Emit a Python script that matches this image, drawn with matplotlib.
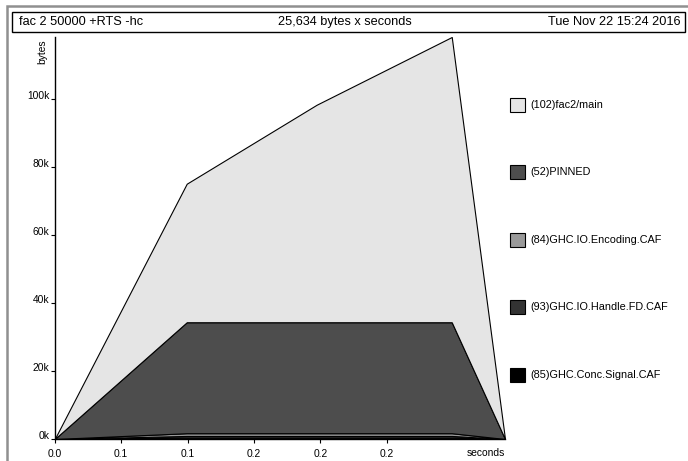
import numpy as np
import matplotlib
matplotlib.use("Agg")
import matplotlib.pyplot as plt
from matplotlib.patches import Rectangle

plt.rcParams['font.family'] = ['Liberation Sans', 'DejaVu Sans']

# donnees du profil (temps en s, tailles en k octets)
temps = [0.0, 0.0994, 0.1972, 0.2989, 0.339]
signal_caf = [0.0, 0.4, 0.4, 0.4, 0.0]
handle_fd = [0.0, 0.5, 0.5, 0.5, 0.0]
encoding = [0.0, 0.8, 0.8, 0.8, 0.0]
pinned = [0.0, 32.6, 32.6, 32.6, 0.0]
fac2_main = [0.0, 40.7, 63.9, 83.8, 0.0]

noms = ["(85)GHC.Conc.Signal.CAF", "(93)GHC.IO.Handle.FD.CAF",
        "(84)GHC.IO.Encoding.CAF", "(52)PINNED", "(102)fac2/main"]
couleurs = ["#000000", "#333333", "#999999", "#4d4d4d", "#e5e5e5"]

yticks = [0, 20, 40, 60, 80, 100]
ylabels = ["0k", "20k", "40k", "60k", "80k", "100k"]
xticks = [0.0, 0.05, 0.10, 0.15, 0.20, 0.25]
xlabels = ["0.0", "0.1", "0.1", "0.2", "0.2", "0.2"]

titre_g = "fac 2 50000 +RTS -hc"
titre_c = "25,634 bytes x seconds"
titre_d = "Tue Nov 22 15:24 2016"

W, H = 688, 461
fig = plt.figure(figsize=(W / 100, H / 100), dpi=100)

def px(x, y):
    # coordonnees pixel (origine en haut a gauche) -> figure
    return x / W, 1 - y / H

# cadre exterieur et boite du titre
fig.patches.append(Rectangle(px(7, 470), (700 - 7) / W, (470 - 6) / H,
                             transform=fig.transFigure, fill=False,
                             edgecolor="#909090", linewidth=1.8))
fig.patches.append(Rectangle(px(12, 32), (685 - 12) / W, 20 / H,
                             transform=fig.transFigure, fill=False,
                             edgecolor="black", linewidth=1))
fig.text(*px(19, 22), titre_g, fontsize=9.2, va="center", ha="left")
fig.text(*px(345, 22), titre_c, fontsize=9.2, va="center", ha="center")
fig.text(*px(680, 22), titre_d, fontsize=9.2, va="center", ha="right")

x0, y0 = px(54.7, 439)
x1, y1 = px(505, 37)
ax = fig.add_axes([x0, y0, x1 - x0, y1 - y0])

couches = [signal_caf, handle_fd, encoding, pinned, fac2_main]
bas = np.zeros(len(temps))
for vals, c in zip(couches, couleurs):
    haut = bas + np.array(vals)
    ax.fill_between(temps, bas, haut, facecolor=c, edgecolor="black",
                    linewidth=0.8)
    bas = haut

ax.set_xlim(0, temps[-1])
ax.set_ylim(0, bas.max())
ax.spines['top'].set_visible(False)
ax.spines['right'].set_visible(False)
ax.spines['left'].set_linewidth(1)
ax.spines['bottom'].set_linewidth(1)
ax.patch.set_alpha(0)

ax.set_yticks(yticks)
ax.set_yticklabels(ylabels, fontsize=7.4)
for lab in ax.get_yticklabels():
    lab.set_va("baseline")
ax.set_xticks(xticks)
ax.set_xticklabels(xlabels, fontsize=7.4)
ax.tick_params(axis="y", length=3, width=0.8, pad=1)
ax.tick_params(axis="x", length=3, width=0.8, pad=4)

fig.text(*px(505, 453), "seconds", fontsize=7.4, ha="right", va="center")
fig.text(*px(42, 52), "bytes", fontsize=7.4, rotation=90, ha="center", va="center")

# legende
for i, (nom, c) in enumerate(zip(noms, couleurs)):
    yc = 374.6 - i * 67.4
    fig.patches.append(Rectangle(px(509.5, yc + 7), 15 / W, 14 / H,
                                 transform=fig.transFigure, facecolor=c,
                                 edgecolor="black", linewidth=0.8))
    fig.text(*px(530, yc), nom, fontsize=7.8, ha="left", va="center")

plt.savefig("out.png", dpi=100)
